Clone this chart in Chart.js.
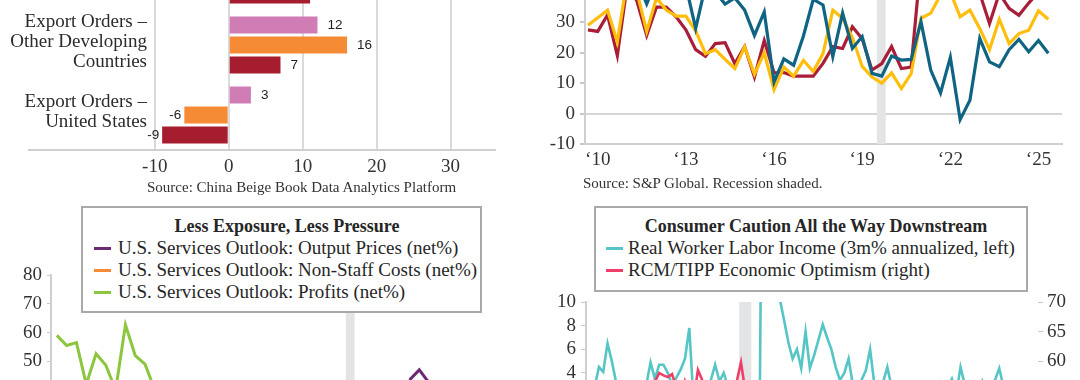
<!DOCTYPE html>
<html>
<head>
<meta charset="utf-8">
<title>Four panels</title>
<script src="https://cdn.jsdelivr.net/npm/chart.js@4.4.1/dist/chart.umd.min.js"></script>
<style>
  body { margin: 0; width: 1080px; height: 380px; overflow: hidden; position: relative; background: #fff;
         font-family: "Liberation Serif", serif; color: #262626; }
  canvas, .note, .legend { position: absolute; }
  .note { font-size: 15px; color: #333; white-space: nowrap; line-height: 16px; }
  .legend { background: #fff; border: 2px solid #a9a9a9; box-sizing: border-box; padding-top: 7px;
            font-size: 19px; line-height: 22px; z-index: 2; }
  .legend .title { font-weight: bold; text-align: center; font-size: 18px; }
  .legend .item { white-space: nowrap; }
  .legend .item i { display: inline-block; width: 17px; height: 3.5px; vertical-align: middle; margin-right: 7px; position: relative; top: -1px; }
</style>
</head>
<body>

<canvas id="orders" width="540" height="260" style="left:0;top:-80px"></canvas>
<div class="note" style="left:147px;top:179px">Source: China Beige Book Data Analytics Platform</div>

<canvas id="outlook" width="540" height="263" style="left:540px;top:-89px"></canvas>
<div class="note" style="left:583px;top:175px">Source: S&amp;P Global. Recession shaded.</div>

<canvas id="services" width="540" height="324" style="left:0;top:255px"></canvas>
<div class="legend" style="left:81px;top:206px;width:401px;height:107px;padding-left:11px">
  <div class="title">Less Exposure, Less Pressure</div>
  <div class="item"><i style="background:#6c2a74"></i>U.S. Services Outlook: Output Prices (net%)</div>
  <div class="item"><i style="background:#f68b36"></i>U.S. Services Outlook: Non-Staff Costs (net%)</div>
  <div class="item"><i style="background:#8cc63f"></i>U.S. Services Outlook: Profits (net%)</div>
</div>

<canvas id="consumer" width="540" height="275" style="left:540px;top:280px"></canvas>
<div class="legend" style="left:594px;top:206px;width:434px;height:86px;padding-left:10px">
  <div class="title">Consumer Caution All the Way Downstream</div>
  <div class="item"><i style="background:#55c5c6;margin-right:5px"></i>Real Worker Labor Income (3m% annualized, left)</div>
  <div class="item"><i style="background:#ef3f68;margin-right:5px"></i>RCM/TIPP Economic Optimism (right)</div>
</div>

<script>
// ---------- top left: China Beige Book export orders (bars)
const orderGroups = [
  ['Export Orders'],                       // group above the crop, only its last bar shows
  ['Export Orders –', 'Other Developing', 'Countries'],
  ['Export Orders –', 'United States']
];
const pinkBars   = [null, 12, 3];
const orangeBars = [null, 16, -6];
const redBars    = [11, 7, -9];
const orderTicks = [-10, 0, 10, 20, 30];

// ---------- top right: S&P Global business outlook, three surveys a year (Feb 10 .. Oct 25)
const roundTicks = [1, 10, 19, 28, 37, 46];
const roundTickLabels = ['‘10', '‘13', '‘16', '‘19', '‘22', '‘25'];
const recessionRounds = [29.5, 30.4];
const redLine = [27.5, 27, 32.4, 19.1, 42, 37, 25.7, 35, 35, 31.8, 27.5, 21, 18.8, 23, 23.3, 16.4,
  22, 12, 24, 13.4, 13.5, 12.3, 12.3, 12.3, 16.5, 22, 21.4, 28.5, 24.6, 14.3, 16.4, 22,
  14.8, 15.3, 50, 46, 47, 45, 44, 42, 39.5, 29.6, 39.5, 34.6, 32.3, 36.3, 40, 43];
const goldLine = [29, 31.5, 34, 23.5, 44, 40, 27, 38, 34, 32, 32, 27.2, 19.7, 21, 17.8, 14.8,
  21.9, 12.9, 20, 7.9, 15.3, 12.3, 17.5, 13.8, 19.7, 34, 31.3, 25, 15.5, 12, 10, 13.4,
  8.2, 13.1, 31.3, 33, 39, 40, 31.8, 34, 28, 21, 31, 23, 26.3, 27.4, 33.8, 31];
const tealLine = [42, 45, 44, 40, 46, 44, 36, 44, 45, 43, 42, 28, 42, 40, 36, 38,
  34, 25.7, 33.4, 10.4, 18, 15.9, 25.5, 37.5, 35.7, 18.7, 33, 21.4, 25.3, 13.2, 12.3, 18.9,
  17.6, 17.8, 30.2, 14.3, 6.8, 18.5, -2, 4.4, 24.7, 17, 15.4, 21, 24.4, 20.3, 24, 19.8];

// ---------- bottom left: services outlook, same survey rounds (only the top of the panel is in view)
const outputPrices = Array(36).fill(null).concat([43.5, 47, 42.5]);
const nonStaffCosts = [];                  // stays below the crop
const profits = [59, 55.5, 56.5, 42, 52.6, 48.6, 40, 62.7, 52, 49, 40, 38];

// ---------- bottom right: monthly, Feb 17 .. Nov 25
const recessionMonths = [35.6, 38.4];
const laborIncome = [2.0, 1.5, 2.8, 4.5, 4.1, 6.5, 5.0, 3.2, 1.8, 2.5, 1.2, 2.0,
  3.0, 2.2, 3.0, 4.9, 3.5, 4.7, 4.7, 4.0, 3.0, 3.6, 4.3, 5.2,
  7.8, 1.5, 2.4, 3.2, 2.6, 3.4, 4.7, 3.3, 4.0, 2.8, 2.0, 3.0,
  1.0, -2.0, -25, -30, -15, 30, 38, 28, 18, 10.3, 8.5, 6.6,
  5.2, 6.0, 4.4, 7.5, 4.4, 5.5, 6.8, 8.1, 7.0, 6.0, 4.5, 3.4,
  4.0, 5.2, 3.0, 2.6, 3.4, 4.2, 6.0, 3.0, 2.5, 3.2, 4.5, 2.8,
  1.5, 0.5, -1.0, 0.8, 2.0, 1.2, 2.4, 3.0, 1.8, 2.6, 3.2, 2.0,
  2.8, 3.5, 2.2, 4.5, 3.0, 2.0, 1.5, 2.6, 3.3, 1.8, 2.5, 3.4,
  4.4, 2.8, 1.6, 2.2, 1.0, 1.8, 0.8, 1.5, 0.6, 1.2];
const optimism = [54.9, 53.5, 54.6, 53.6, 51.4, 51.0, 50.5, 52.0, 51.3, 52.4, 54.3,
  55.4, 55.0, 56.0, 54.8, 56.0, 56.5, 58.0, 57.6, 57.3, 57.8, 55.5, 53.0,
  56.5, 54.0, 53.5, 58.5, 56.8, 55.5, 54.2, 54.0, 56.2, 55.0, 55.3, 56.0,
  56.5, 59.8, 55.0, 51.7, 50.6, 50.4, 50.5, 48.6, 47.6, 49.6, 52.4, 48.9,
  50.3, 49.5, 52.0, 55.4, 54.9, 52.3, 51.7, 48.7, 47.3, 46.1, 45.6, 44.0,
  43.5, 43.7, 41.8, 41.7, 42.0, 37.8, 34.6, 38.1, 41.8, 40.0, 41.6, 39.6,
  42.1, 43.0, 42.5, 40.6, 41.2, 40.6, 41.1, 39.0, 40.4, 40.9, 41.0, 39.0,
  41.7, 42.0, 43.6, 44.0, 41.1, 43.7, 42.3, 44.1, 43.7, 43.7, 47.4, 51.5,
  48.1, 47.2, 46.6, 44.8, 45.5, 46.8, 49.1, 47.7, 47.8, 49.3, 47.5];

const SERIF = '"Liberation Serif", serif';
const TICK_FONT = { family: SERIF, size: 19 };
const AXIS_GREY = '#cfcfcf';

// grey recession band behind the lines
const shade = {
  id: 'shade',
  beforeDatasetsDraw(chart, args, opts) {
    if (!opts.span) return;
    const { ctx, chartArea, scales: { x } } = chart;
    const x0 = x.getPixelForValue(opts.span[0]);
    const x1 = x.getPixelForValue(opts.span[1]);
    ctx.save();
    ctx.fillStyle = '#e3e4e6';
    ctx.fillRect(x0, chartArea.top, x1 - x0, chartArea.bottom - chartArea.top);
    ctx.restore();
  }
};

// numbers at the end of each bar
const barValues = {
  id: 'barValues',
  afterDatasetsDraw(chart) {
    const { ctx } = chart;
    ctx.save();
    ctx.font = '13.5px "Liberation Sans", sans-serif';
    ctx.fillStyle = '#222';
    ctx.textBaseline = 'middle';
    chart.data.datasets.forEach((ds, di) => {
      chart.getDatasetMeta(di).data.forEach((bar, i) => {
        const v = ds.data[i];
        if (v == null) return;
        if (v >= 0) {
          ctx.textAlign = 'left';
          ctx.fillText(String(v), bar.x + 10, bar.y);
        } else {
          ctx.textAlign = 'right';
          ctx.fillText(String(v), bar.x - 3, bar.y);
        }
      });
    });
    ctx.restore();
  }
};

// multi-line group names, right aligned next to the bars
const groupNames = {
  id: 'groupNames',
  afterDraw(chart) {
    const { ctx, scales: { y } } = chart;
    ctx.save();
    ctx.font = '19px ' + SERIF;
    ctx.fillStyle = '#2b2b2b';
    ctx.textAlign = 'right';
    ctx.textBaseline = 'middle';
    orderGroups.forEach((lines, i) => {
      const cy = y.getPixelForValue(i) - 3;
      lines.forEach((t, k) => ctx.fillText(t, 147, cy + (k - (lines.length - 1) / 2) * 20));
    });
    ctx.restore();
  }
};

function line(label, values, color, width, axis) {
  return {
    label,
    data: values.map((v, i) => ({ x: i, y: v })),
    borderColor: color,
    backgroundColor: color,
    borderWidth: width,
    pointRadius: 0,
    tension: 0,
    yAxisID: axis || 'y'
  };
}

const noChrome = { legend: { display: false }, tooltip: { enabled: false } };

new Chart(document.getElementById('orders'), {
  type: 'bar',
  data: {
    labels: orderGroups.map(g => g.join(' ')),
    datasets: [
      { label: 'Series 1', data: pinkBars, backgroundColor: '#d07db6' },
      { label: 'Series 2', data: orangeBars, backgroundColor: '#f68b36' },
      { label: 'Series 3', data: redBars, backgroundColor: '#a61d30' }
    ]
  },
  options: {
    indexAxis: 'y',
    responsive: false,
    animation: false,
    layout: { padding: { top: 20, left: 29, right: 45, bottom: 0 } },
    datasets: { bar: { barPercentage: 0.85, categoryPercentage: 0.857 } },
    plugins: noChrome,
    scales: {
      x: {
        min: -27, max: 36,
        afterBuildTicks: ax => { ax.ticks = orderTicks.map(v => ({ value: v })); },
        afterFit: ax => { ax.height = 30; },
        grid: { color: '#dadada', lineWidth: 2, drawTicks: false },
        border: { color: AXIS_GREY, width: 2 },
        ticks: { font: TICK_FONT, color: '#333', padding: 6, autoSkip: false, maxRotation: 0 }
      },
      y: { display: false }
    }
  },
  plugins: [barValues, groupNames]
});

new Chart(document.getElementById('outlook'), {
  type: 'line',
  data: {
    datasets: [
      line('Teal series', tealLine, '#0e6482', 3.2),
      line('Gold series', goldLine, '#ffbe0b', 3.2),
      line('Red series', redLine, '#a81e38', 3.2)
    ]
  },
  options: {
    responsive: false,
    animation: false,
    layout: { padding: { top: 20, right: 18, left: 0, bottom: 0 } },
    plugins: Object.assign({ shade: { span: recessionRounds } }, noChrome),
    scales: {
      x: {
        type: 'linear', min: -0.3, max: 48.4,
        afterBuildTicks: ax => { ax.ticks = roundTicks.map(v => ({ value: v })); },
        afterFit: ax => { ax.height = 30; },
        grid: { display: false, drawTicks: false },
        border: { color: AXIS_GREY, width: 2 },
        ticks: { font: TICK_FONT, color: '#333', padding: 5, autoSkip: false, maxRotation: 0,
                 callback: v => roundTickLabels[roundTicks.indexOf(v)] }
      },
      y: {
        min: -10, max: 60,
        afterFit: ax => { ax.width = 45; },
        ticks: { stepSize: 10, font: TICK_FONT, color: '#333', padding: 5, autoSkip: false },
        grid: { color: c => (c.tick && c.tick.value === 0) ? '#d5d5d5' : 'rgba(0,0,0,0)',
                lineWidth: 2, tickLength: 5, tickColor: '#c8c8c8' },
        border: { color: AXIS_GREY, width: 2 }
      }
    }
  },
  plugins: [shade]
});

new Chart(document.getElementById('services'), {
  type: 'line',
  data: {
    datasets: [
      line('U.S. Services Outlook: Output Prices (net%)', outputPrices, '#6c2a74', 3),
      line('U.S. Services Outlook: Non-Staff Costs (net%)', nonStaffCosts, '#f68b36', 3),
      line('U.S. Services Outlook: Profits (net%)', profits, '#8cc63f', 3)
    ]
  },
  options: {
    responsive: false,
    animation: false,
    layout: { padding: { top: 20, right: 12, left: 0, bottom: 0 } },
    plugins: Object.assign({ shade: { span: recessionRounds } }, noChrome),
    scales: {
      x: { type: 'linear', min: -0.6, max: 48.1, display: false },
      y: {
        min: -20, max: 80,
        afterFit: ax => { ax.width = 51; },
        ticks: { stepSize: 10, font: TICK_FONT, color: '#333', padding: 5, autoSkip: false },
        grid: { drawOnChartArea: false, tickLength: 4, tickColor: '#c8c8c8' },
        border: { color: AXIS_GREY, width: 2 }
      }
    }
  },
  plugins: [shade]
});

new Chart(document.getElementById('consumer'), {
  type: 'line',
  data: {
    datasets: [
      line('RCM/TIPP Economic Optimism (right)', optimism, '#ef3f68', 2.6, 'y1'),
      line('Real Worker Labor Income (3m% annualized, left)', laborIncome, '#55c5c6', 2.6)
    ]
  },
  options: {
    responsive: false,
    animation: false,
    layout: { padding: { top: 22, right: 0, left: 0, bottom: 0 } },
    plugins: Object.assign({ shade: { span: recessionMonths } }, noChrome),
    scales: {
      x: { type: 'linear', min: 0, max: 105, display: false },
      y: {
        position: 'left', min: -10, max: 10,
        afterFit: ax => { ax.width = 46; },
        ticks: { stepSize: 2, font: TICK_FONT, color: '#333', padding: 5, autoSkip: false },
        grid: { drawOnChartArea: false, tickLength: 5, tickColor: '#c8c8c8' },
        border: { color: AXIS_GREY, width: 2 }
      },
      y1: {
        position: 'right', min: 30, max: 70,
        afterFit: ax => { ax.width = 42; },
        ticks: { stepSize: 5, font: TICK_FONT, color: '#333', padding: 4, autoSkip: false },
        grid: { drawOnChartArea: false, tickLength: 5, tickColor: '#c8c8c8' },
        border: { display: false }
      }
    }
  },
  plugins: [shade]
});
</script>
</body>
</html>
